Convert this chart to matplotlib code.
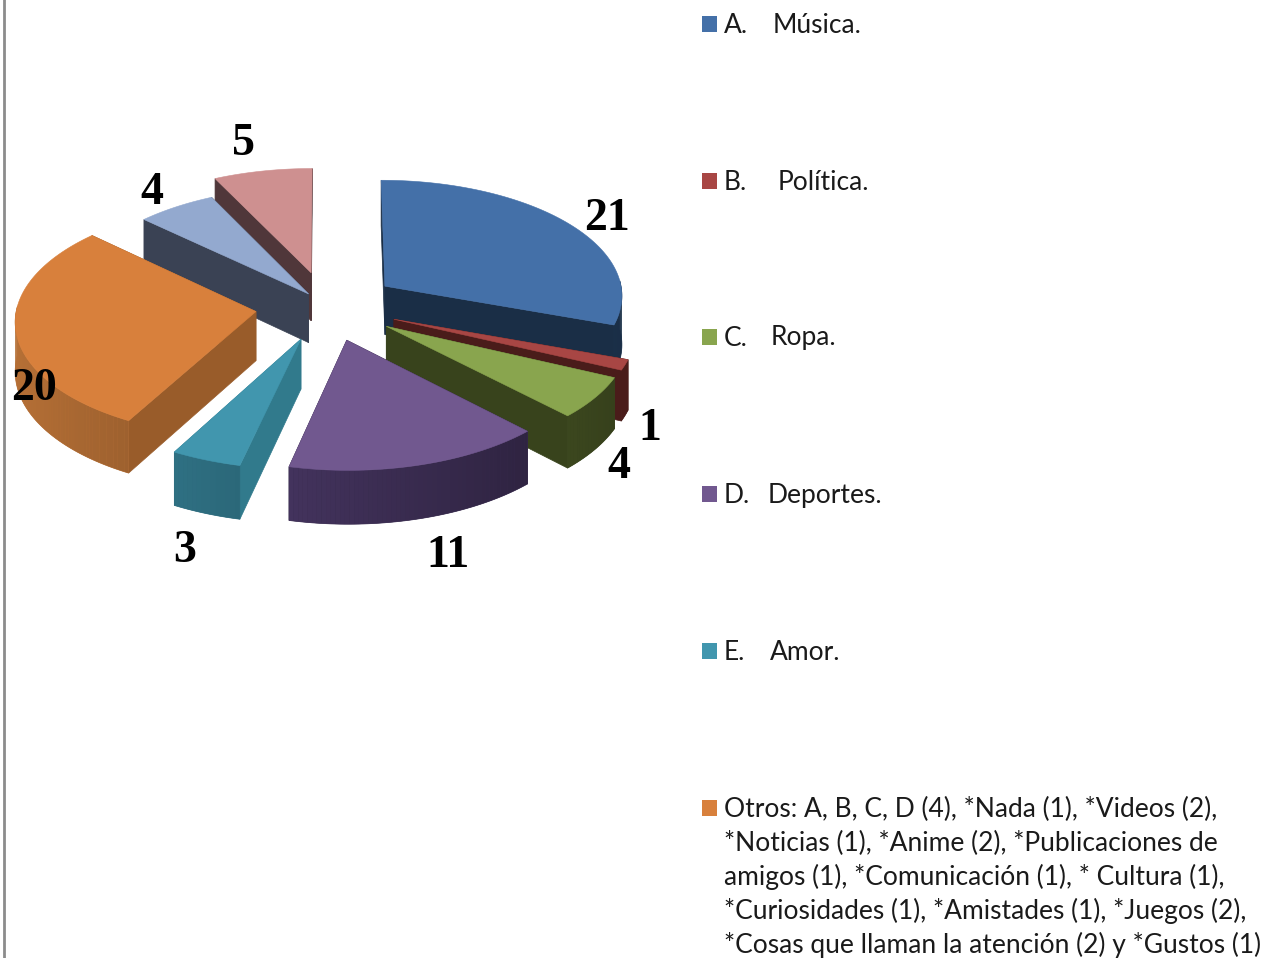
import numpy as np
import matplotlib
matplotlib.use("Agg")
import matplotlib.pyplot as plt
from matplotlib.colors import to_rgb

# Slice values, clockwise from twelve o'clock
values = [21, 1, 4, 11, 3, 20, 4, 5]
top_colors = ['#4470A8', '#A84644', '#89A54E', '#71588F', '#4196AE', '#D8803C', '#93A9CF', '#CE9090']
side_colors = ['#1A2E46', '#4A1C1A', '#38431C', '#2E2340', '#317A8C', '#995C2A', '#3A4254', '#50373A']
wall_colors = ['#27466B', '#6E2A27', '#4F5E28', '#3E2F56', '#286070', '#875328', '#3A4254', '#50373A']

# Legend
legend_letters = ['A.', 'B.', 'C.', 'D.', 'E.']
legend_words = ['Música.', 'Política.', 'Ropa.', 'Deportes.', 'Amor.']
legend_word_x = [773, 778, 771, 768, 770]
legend_y = [24, 181, 337, 494, 651]
otros_lines = ['Otros: A, B, C, D (4), *Nada (1), *Videos (2),',
               '*Noticias (1), *Anime (2), *Publicaciones de',
               'amigos (1), *Comunicación (1), * Cultura (1),',
               '*Curiosidades (1), *Amistades (1), *Juegos (2),',
               '*Cosas que llaman la atención (2) y *Gustos (1)']
otros_y = [808, 842, 876, 910, 944]

# Data label positions, same order as values
label_x = [607, 650, 619, 448, 185, 34, 152, 244]
label_y = [219, 429, 467, 556, 551, 389, 193, 144]

# Pie geometry in image pixels
cx, cy = 327, 306
rx, ry = 239, 116
depth = 49
explode = [0.30, 0.30, 0.30, 0.30, 0.30, 0.30, 0.13, 0.30]
persp = 0.07


def project(u, v, z=0.0):
    p = 1 / (1 + persp * v)
    return cx + rx * p * u, cy - ry * p * v + depth * p * z


def shade(color, f):
    return tuple(min(1, c * f) for c in to_rgb(color))


fig = plt.figure(figsize=(12.65, 9.58), dpi=100)
ax = fig.add_axes([0, 0, 1, 1])
ax.set_xlim(0, 1265)
ax.set_ylim(958, 0)
ax.axis('off')

# left border of the chart area
ax.plot([3.5, 3.5], [0, 958], color='#8C8C8C', lw=2)

fracs = np.array(values) / sum(values)
starts = 2 * np.pi * np.concatenate([[0], np.cumsum(fracs)[:-1]])
ends = 2 * np.pi * np.cumsum(fracs)
mids = (starts + ends) / 2

# back slices first so the front ones paint over them
for i in np.argsort(-np.cos(mids)):
    off_u = explode[i] * np.sin(mids[i])
    off_v = explode[i] * np.cos(mids[i])
    th = np.linspace(starts[i], ends[i], max(8, int(np.degrees(ends[i] - starts[i]))))
    us = off_u + np.sin(th)
    vs = off_v + np.cos(th)

    # two flat cut faces
    for a in (starts[i], ends[i]):
        ua, va = off_u + np.sin(a), off_v + np.cos(a)
        pts = [project(off_u, off_v), project(ua, va), project(ua, va, 1), project(off_u, off_v, 1)]
        ax.fill(*zip(*pts), color=side_colors[i], lw=0.5, zorder=2)

    upper = [project(u, v) for u, v in zip(us, vs)]
    lower = [project(u, v, 1) for u, v in zip(us, vs)]

    # outer wall only where it faces the viewer
    front = [j for j in range(len(th)) if np.cos(th[j]) < 0.05]
    if len(front) > 1:
        pts = [upper[j] for j in front] + [lower[j] for j in front[::-1]]
        ax.fill(*zip(*pts), color=shade(wall_colors[i], 1 - 0.35 * np.sin(mids[i])), lw=0.5, zorder=2)
        for j in front[:-1]:
            f = 1 - 0.35 * np.sin((th[j] + th[j + 1]) / 2)
            pts = [upper[j], upper[j + 1], lower[j + 1], lower[j]]
            ax.fill(*zip(*pts), facecolor=shade(wall_colors[i], f), edgecolor='none', lw=0, zorder=2)

    # top surface
    pts = [project(off_u, off_v)] + upper
    ax.fill(*zip(*pts), color=top_colors[i], lw=0.4, zorder=2)

for x, y, v in zip(label_x, label_y, values):
    ax.text(x, y, str(v), family='Liberation Serif', weight='bold', fontsize=33,
            ha='center', va='center', color='black', zorder=3)

for i, (letter, word) in enumerate(zip(legend_letters, legend_words)):
    ax.fill_between([702, 717], legend_y[i] - 8, legend_y[i] + 8, color=top_colors[i], lw=0)
    ax.text(724, legend_y[i] + 1, letter, family='Lato', fontsize=19, va='center', color='#1a1a1a')
    ax.text(legend_word_x[i], legend_y[i] + 1, word, family='Lato', fontsize=19, va='center', color='#1a1a1a')

ax.fill_between([702, 717], otros_y[0] - 8, otros_y[0] + 8, color=top_colors[5], lw=0)
for line, y in zip(otros_lines, otros_y):
    ax.text(724, y + 1, line, family='Lato', fontsize=19, va='center', color='#1a1a1a')

fig.savefig('out.png', dpi=100)
